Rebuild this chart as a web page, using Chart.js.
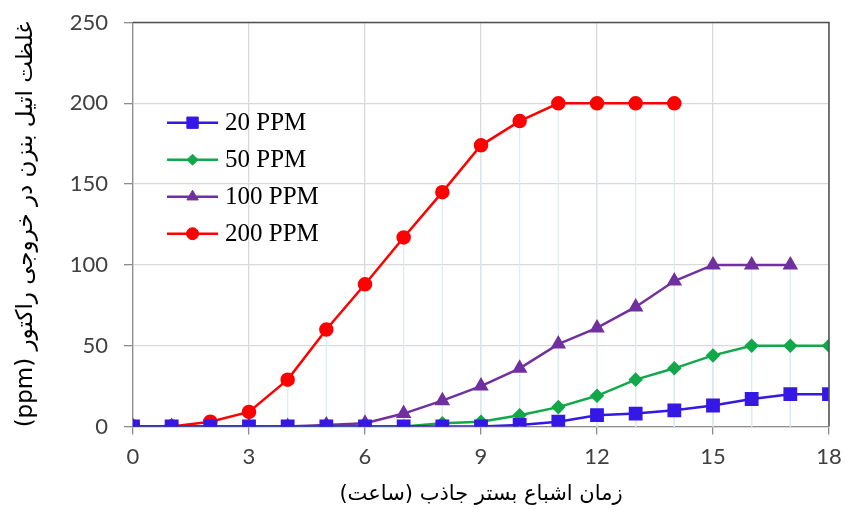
<!DOCTYPE html>
<html>
<head>
<meta charset="utf-8">
<script src="https://cdn.jsdelivr.net/npm/chart.js@4"></script>
<style>
  html, body { margin: 0; padding: 0; background: #fff; }
  #wrap { width: 845px; height: 512px; }
</style>
</head>
<body>
<div id="wrap"><canvas id="c" width="845" height="512"></canvas></div>
<script>
// hours
const hours = [0, 1, 2, 3, 4, 5, 6, 7, 8, 9, 10, 11, 12, 13, 14, 15, 16, 17, 18];

// outlet concentration (ppm) per feed concentration
const ppm20  = [0, 0, 0, 0, 0, 0, 0, 0, 0, 0, 1, 3, 7, 8, 10, 13, 17, 20, 20];
const ppm50  = [0, 0, 0, 0, 0, 0, 0, 0, 2, 3, 7, 12, 19, 29, 36, 44, 50, 50, 50];
const ppm100 = [0, 0, 0, 0, 0, 1, 2, 8, 16, 25, 36, 51, 61, 74, 90, 100, 100, 100];
const ppm200 = [0, 0, 3, 9, 29, 60, 88, 117, 145, 174, 189, 200, 200, 200, 200];

const seriesNames = ['20 PPM', '50 PPM', '100 PPM', '200 PPM'];
const xTitle = 'زمان اشباع بستر جاذب (ساعت)';
const yTitle = 'غلظت اتیل بنزن در خروجی راکتور (ppm)';

const rtl = s => '\u202B' + s + '\u202C';
const pts = arr => arr.map((v, i) => ({ x: hours[i], y: v }));

// light blue drop lines from each point down to the x axis
const dropLines = {
  id: 'dropLines',
  beforeDatasetsDraw(chart) {
    const ctx = chart.ctx;
    const y0 = chart.scales.y.getPixelForValue(0);
    ctx.save();
    ctx.strokeStyle = '#d9edf4';
    ctx.lineWidth = 1.2;
    chart.data.datasets.forEach((ds, i) => {
      chart.getDatasetMeta(i).data.forEach(p => {
        ctx.beginPath();
        ctx.moveTo(p.x, p.y);
        ctx.lineTo(p.x, y0);
        ctx.stroke();
      });
    });
    ctx.restore();
  }
};

// dark frame on top and right
const frame = {
  id: 'frame',
  afterDatasetsDraw(chart) {
    const { left, right, top, bottom } = chart.chartArea;
    const ctx = chart.ctx;
    ctx.save();
    ctx.strokeStyle = '#4d4d4d';
    ctx.lineWidth = 1.5;
    ctx.beginPath();
    ctx.moveTo(left, top);
    ctx.lineTo(right, top);
    ctx.lineTo(right, bottom);
    ctx.stroke();
    ctx.restore();
  }
};

// legend drawn inside the plot
const innerLegend = {
  id: 'innerLegend',
  afterDraw(chart) {
    const ctx = chart.ctx;
    const xs = chart.scales.x, ys = chart.scales.y;
    const x1 = xs.getPixelForValue(0.88), x2 = xs.getPixelForValue(2.2);
    const xm = (x1 + x2) / 2;
    let yy = ys.getPixelForValue(188);
    ctx.save();
    chart.data.datasets.forEach(ds => {
      ctx.strokeStyle = ds.borderColor;
      ctx.lineWidth = ds.borderWidth;
      ctx.beginPath();
      ctx.moveTo(x1, yy);
      ctx.lineTo(x2, yy);
      ctx.stroke();
      ctx.fillStyle = ds.pointBackgroundColor;
      ctx.strokeStyle = ds.pointBorderColor;
      ctx.lineWidth = 1;
      Chart.helpers.drawPoint(ctx, { pointStyle: ds.pointStyle, radius: ds.pointRadius, rotation: 0, borderWidth: 1 }, xm, yy);
      ctx.fillStyle = '#000';
      ctx.font = '25px "Liberation Serif", serif';
      ctx.textBaseline = 'middle';
      ctx.textAlign = 'left';
      ctx.fillText(ds.label, x2 + 7, yy + 1);
      yy += 37;
    });
    ctx.restore();
  }
};

const mk = (label, data, color, style, r) => ({
  label, data: pts(data),
  borderColor: color, backgroundColor: color,
  pointBackgroundColor: color, pointBorderColor: color,
  pointStyle: style, pointRadius: r, pointHoverRadius: r,
  borderWidth: 2.5, tension: 0
});

new Chart(document.getElementById('c'), {
  type: 'line',
  data: {
    datasets: [
      mk(seriesNames[0], ppm20, '#3517e6', 'rect', 8),
      mk(seriesNames[1], ppm50, '#12a84a', 'rectRot', 5.5),
      mk(seriesNames[2], ppm100, '#7030a0', 'triangle', 6.5),
      mk(seriesNames[3], ppm200, '#ff0000', 'circle', 6)
    ]
  },
  options: {
    responsive: false,
    animation: false,
    layout: { padding: { top: 22.5, right: 16, left: 0, bottom: 0 } },
    plugins: { legend: { display: false }, tooltip: { enabled: false } },
    scales: {
      x: {
        type: 'linear', min: 0, max: 18,
        ticks: { stepSize: 3, color: '#404040', padding: 9, font: { family: 'Lato, "Liberation Sans", sans-serif', size: 22 } },
        grid: { color: '#d9d9d9', lineWidth: 1.3, tickLength: 8, tickColor: '#8c8c8c' },
        border: { color: '#8c8c8c', width: 1.3 },
        title: { display: true, text: rtl(xTitle), color: '#000', padding: { top: 4, bottom: 5 }, font: { family: '"DejaVu Sans", sans-serif', size: 21 } },
        afterFit(s) { s.height = 85.5; s.paddingLeft = 0; s.paddingRight = 0; }
      },
      y: {
        min: 0, max: 250,
        ticks: { stepSize: 50, color: '#404040', padding: 16, font: { family: 'Lato, "Liberation Sans", sans-serif', size: 22 } },
        grid: { color: '#d9d9d9', lineWidth: 1.3, tickLength: 9, tickColor: '#8c8c8c' },
        border: { color: '#8c8c8c', width: 1.3 },
        title: { display: true, text: rtl(yTitle), color: '#000', padding: { top: 12, bottom: 4 }, font: { family: '"DejaVu Sans", sans-serif', size: 23 } },
        afterFit(s) { s.width = 133; s.paddingTop = 0; s.paddingBottom = 0; }
      }
    }
  },
  plugins: [dropLines, frame, innerLegend]
});
</script>
</body>
</html>
